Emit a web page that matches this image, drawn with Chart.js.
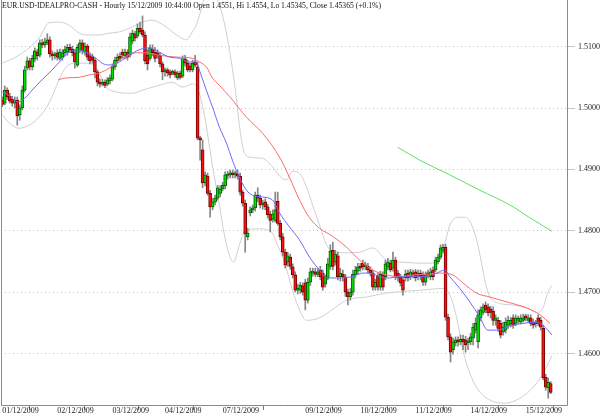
<!DOCTYPE html>
<html><head><meta charset="utf-8">
<script src="https://cdn.jsdelivr.net/npm/chart.js@4.4.1/dist/chart.umd.min.js"></script>
<style>html,body{margin:0;padding:0;background:#fff}#wrap{width:600px;height:416px}</style>
</head><body><div id="wrap"><canvas id="c" width="600" height="416"></canvas></div>
<script>
const titleText = "EUR.USD-IDEALPRO-CASH - Hourly 15/12/2009 10:44:00 Open 1.4551, Hi 1.4554, Lo 1.45345, Close 1.45365 (+0.1%)";
const dayLabels = ["01/12/2009","02/12/2009","03/12/2009","04/12/2009","07/12/2009","09/12/2009","10/12/2009","11/12/2009","14/12/2009","15/12/2009"];
const dayStartBar = [0,22,44,65,88,121,143,165,187,209];
const yTicks = [1.46,1.47,1.48,1.49,1.50,1.51];

const open = [1.5013,1.5008,1.5029,1.5019,1.5014,1.5008,1.5013,1.4989,1.5000,1.5029,
1.5065,1.5077,1.5067,1.5080,1.5091,1.5086,1.5106,1.5103,1.5106,1.5111,
1.5088,1.5085,1.5090,1.5081,1.5083,1.5090,1.5091,1.5099,1.5096,1.5090,
1.5070,1.5095,1.5106,1.5091,1.5101,1.5085,1.5083,1.5078,1.5059,1.5042,
1.5039,1.5042,1.5039,1.5044,1.5047,1.5067,1.5077,1.5083,1.5091,1.5085,
1.5091,1.5086,1.5109,1.5121,1.5117,1.5130,1.5127,1.5119,1.5086,1.5081,
1.5095,1.5091,1.5090,1.5086,1.5072,1.5059,1.5062,1.5059,1.5057,1.5059,
1.5049,1.5057,1.5052,1.5080,1.5073,1.5068,1.5062,1.5075,1.5067,1.4951,
1.4932,1.4878,1.4889,1.4861,1.4839,1.4847,1.4853,1.4861,1.4868,1.4873,
1.4889,1.4891,1.4894,1.4891,1.4892,1.4889,1.4863,1.4845,1.4790,1.4829,
1.4834,1.4837,1.4858,1.4853,1.4842,1.4847,1.4839,1.4827,1.4819,1.4817,
1.4848,1.4812,1.4790,1.4765,1.4749,1.4757,1.4741,1.4728,1.4703,1.4703,
1.4710,1.4715,1.4687,1.4716,1.4731,1.4733,1.4729,1.4736,1.4731,1.4713,
1.4723,1.4742,1.4768,1.4749,1.4759,1.4725,1.4729,1.4725,1.4700,1.4692,
1.4700,1.4728,1.4734,1.4741,1.4747,1.4741,1.4742,1.4736,1.4731,1.4708,
1.4726,1.4708,1.4728,1.4725,1.4741,1.4747,1.4739,1.4752,1.4731,1.4725,
1.4720,1.4723,1.4731,1.4725,1.4731,1.4733,1.4725,1.4731,1.4728,1.4716,
1.4729,1.4725,1.4736,1.4736,1.4749,1.4757,1.4768,1.4773,1.4659,1.4627,
1.4606,1.4617,1.4620,1.4619,1.4623,1.4622,1.4617,1.4619,1.4625,1.4638,
1.4619,1.4658,1.4667,1.4679,1.4676,1.4672,1.4669,1.4654,1.4654,1.4649,
1.4635,1.4638,1.4646,1.4648,1.4658,1.4649,1.4654,1.4651,1.4654,1.4659,
1.4654,1.4658,1.4651,1.4648,1.4658,1.4654,1.4641,1.4561,1.4544,1.4551];

const high = [1.5018,1.5036,1.5033,1.5024,1.5019,1.5018,1.5018,1.5005,1.5036,1.5068,
1.5083,1.5081,1.5086,1.5098,1.5096,1.5111,1.5112,1.5114,1.5121,1.5116,
1.5093,1.5091,1.5095,1.5096,1.5095,1.5101,1.5104,1.5104,1.5101,1.5095,
1.5103,1.5111,1.5111,1.5106,1.5104,1.5090,1.5088,1.5081,1.5062,1.5047,
1.5047,1.5046,1.5050,1.5054,1.5072,1.5083,1.5088,1.5090,1.5096,1.5096,
1.5095,1.5122,1.5127,1.5125,1.5137,1.5140,1.5150,1.5124,1.5095,1.5103,
1.5103,1.5099,1.5095,1.5090,1.5075,1.5065,1.5065,1.5062,1.5062,1.5062,
1.5060,1.5060,1.5085,1.5086,1.5078,1.5073,1.5078,1.5086,1.5075,1.4954,
1.4948,1.4896,1.4894,1.4866,1.4853,1.4858,1.4874,1.4873,1.4879,1.4896,
1.4897,1.4899,1.4899,1.4897,1.4899,1.4894,1.4866,1.4850,1.4804,1.4839,
1.4842,1.4863,1.4870,1.4858,1.4850,1.4852,1.4843,1.4832,1.4834,1.4863,
1.4863,1.4817,1.4796,1.4770,1.4765,1.4762,1.4746,1.4733,1.4713,1.4716,
1.4715,1.4721,1.4723,1.4739,1.4739,1.4739,1.4739,1.4742,1.4736,1.4728,
1.4755,1.4777,1.4781,1.4768,1.4765,1.4739,1.4736,1.4729,1.4705,1.4706,
1.4736,1.4742,1.4747,1.4747,1.4752,1.4749,1.4747,1.4741,1.4736,1.4721,
1.4731,1.4734,1.4733,1.4752,1.4755,1.4752,1.4765,1.4757,1.4736,1.4729,
1.4725,1.4736,1.4736,1.4737,1.4736,1.4737,1.4736,1.4736,1.4733,1.4733,
1.4736,1.4739,1.4741,1.4757,1.4762,1.4777,1.4778,1.4778,1.4664,1.4632,
1.4625,1.4627,1.4627,1.4630,1.4630,1.4628,1.4625,1.4633,1.4649,1.4658,
1.4671,1.4676,1.4681,1.4684,1.4681,1.4677,1.4676,1.4663,1.4659,1.4654,
1.4651,1.4658,1.4661,1.4659,1.4663,1.4663,1.4661,1.4663,1.4664,1.4664,
1.4663,1.4663,1.4656,1.4654,1.4663,1.4659,1.4646,1.4566,1.4560,1.4554];

const low = [1.5002,1.5005,1.5014,1.5008,1.5003,1.5000,1.4972,1.4980,1.4997,1.5026,
1.5062,1.5062,1.5062,1.5075,1.5078,1.5083,1.5098,1.5099,1.5103,1.5083,
1.5078,1.5080,1.5078,1.5078,1.5078,1.5085,1.5086,1.5090,1.5085,1.5065,
1.5067,1.5090,1.5088,1.5086,1.5078,1.5072,1.5073,1.5049,1.5036,1.5034,
1.5036,1.5033,1.5036,1.5039,1.5044,1.5063,1.5073,1.5077,1.5081,1.5080,
1.5078,1.5083,1.5104,1.5109,1.5114,1.5121,1.5116,1.5072,1.5062,1.5078,
1.5085,1.5075,1.5081,1.5067,1.5046,1.5052,1.5052,1.5049,1.5054,1.5050,
1.5046,1.5047,1.5049,1.5068,1.5059,1.5059,1.5059,1.5067,1.4948,1.4915,
1.4870,1.4873,1.4858,1.4822,1.4834,1.4842,1.4850,1.4855,1.4865,1.4868,
1.4884,1.4886,1.4886,1.4886,1.4884,1.4858,1.4840,1.4765,1.4785,1.4824,
1.4829,1.4832,1.4847,1.4837,1.4835,1.4834,1.4821,1.4798,1.4814,1.4814,
1.4809,1.4785,1.4759,1.4739,1.4742,1.4737,1.4723,1.4700,1.4697,1.4698,
1.4695,1.4671,1.4682,1.4711,1.4726,1.4725,1.4725,1.4720,1.4703,1.4708,
1.4720,1.4737,1.4736,1.4744,1.4720,1.4718,1.4718,1.4693,1.4679,1.4687,
1.4695,1.4723,1.4729,1.4734,1.4736,1.4736,1.4731,1.4726,1.4703,1.4703,
1.4703,1.4703,1.4703,1.4720,1.4736,1.4733,1.4734,1.4720,1.4718,1.4710,
1.4695,1.4718,1.4718,1.4720,1.4723,1.4718,1.4720,1.4720,1.4711,1.4711,
1.4723,1.4720,1.4720,1.4733,1.4746,1.4754,1.4764,1.4654,1.4622,1.4586,
1.4599,1.4612,1.4612,1.4614,1.4606,1.4602,1.4606,1.4614,1.4614,1.4633,
1.4609,1.4653,1.4663,1.4666,1.4661,1.4658,1.4646,1.4646,1.4636,1.4625,
1.4630,1.4633,1.4641,1.4643,1.4641,1.4645,1.4649,1.4648,1.4651,1.4653,
1.4651,1.4645,1.4641,1.4643,1.4645,1.4638,1.4557,1.4540,1.4527,1.45345];

const close = [1.5006,1.5029,1.5018,1.5011,1.5008,1.5013,1.4987,1.5000,1.5029,1.5062,
1.5077,1.5067,1.5081,1.5093,1.5085,1.5106,1.5103,1.5108,1.5111,1.5088,
1.5085,1.5086,1.5083,1.5091,1.5090,1.5095,1.5099,1.5095,1.5090,1.5075,
1.5099,1.5106,1.5093,1.5101,1.5083,1.5077,1.5078,1.5059,1.5042,1.5039,
1.5042,1.5037,1.5046,1.5049,1.5067,1.5078,1.5083,1.5081,1.5086,1.5091,
1.5083,1.5116,1.5122,1.5114,1.5130,1.5124,1.5119,1.5077,1.5072,1.5098,
1.5090,1.5081,1.5086,1.5072,1.5059,1.5060,1.5057,1.5054,1.5059,1.5054,
1.5057,1.5050,1.5080,1.5073,1.5062,1.5062,1.5073,1.5070,1.4951,1.4948,
1.4878,1.4891,1.4861,1.4839,1.4847,1.4853,1.4870,1.4868,1.4874,1.4891,
1.4892,1.4894,1.4891,1.4892,1.4889,1.4863,1.4845,1.4795,1.4796,1.4834,
1.4837,1.4858,1.4853,1.4842,1.4843,1.4839,1.4826,1.4817,1.4827,1.4834,
1.4812,1.4790,1.4765,1.4744,1.4759,1.4742,1.4728,1.4703,1.4706,1.4711,
1.4700,1.4687,1.4716,1.4733,1.4733,1.4729,1.4733,1.4725,1.4708,1.4725,
1.4746,1.4767,1.4742,1.4762,1.4725,1.4731,1.4725,1.4700,1.4692,1.4700,
1.4729,1.4736,1.4741,1.4739,1.4741,1.4742,1.4736,1.4731,1.4708,1.4716,
1.4708,1.4729,1.4708,1.4746,1.4749,1.4736,1.4752,1.4725,1.4723,1.4715,
1.4703,1.4729,1.4723,1.4733,1.4728,1.4723,1.4731,1.4725,1.4716,1.4728,
1.4728,1.4733,1.4725,1.4752,1.4757,1.4772,1.4773,1.4659,1.4627,1.4602,
1.4619,1.4622,1.4619,1.4623,1.4619,1.4614,1.4619,1.4627,1.4643,1.4649,
1.4663,1.4671,1.4676,1.4671,1.4666,1.4667,1.4654,1.4658,1.4641,1.4630,
1.4643,1.4651,1.4654,1.4654,1.4646,1.4658,1.4656,1.4658,1.4658,1.4658,
1.4658,1.4649,1.4646,1.4649,1.4649,1.4643,1.4560,1.4545,1.4553,1.45365];

// indicator lines, read at sample bars
const blueBar = [0,1.5,4.7,6.7,9.5,11.9,15.9,19.9,23.5,26.7,30.7,33.9,37.5,39.9,42.7,46.7,50.7,54.7,58.7,62.7,66.7,70.7,74.7,77.5,78.7,81.5,83.9,86.7,89.5,91.9,93.9,97.5,99.9,103.9,107.9,110.7,114.7,118.7,122.7,126.7,129.9,134.7,139.5,143.9,146.7,150.7,154.7,158.7,163.9,169.5,173.5,176.7,178.7,182.7,186.7,190.7,193.9,197.5,202.7,207.9,213.5,215.9,219.5];
const blueVal = [1.5026,1.5024,1.5013,1.5010,1.5018,1.5029,1.5046,1.5062,1.5078,1.5091,1.5095,1.5090,1.5081,1.5073,1.5070,1.5075,1.5086,1.5095,1.5098,1.5091,1.5083,1.5081,1.5075,1.5075,1.5062,1.5029,1.5002,1.4969,1.4943,1.4915,1.4894,1.4866,1.4858,1.4855,1.4850,1.4829,1.4806,1.4785,1.4757,1.4736,1.4723,1.4723,1.4725,1.4731,1.4731,1.4725,1.4723,1.4725,1.4725,1.4726,1.4731,1.4736,1.4725,1.4706,1.4684,1.4659,1.4638,1.4638,1.4645,1.4649,1.4651,1.4646,1.4630];
const redBar = [22.3,25.5,30.7,34.7,38.7,42.7,47.9,53.5,57.5,62.7,69.5,75.9,78.7,81.5,83.9,86.7,90.7,97.5,103.9,110.7,114.7,118.7,122.7,126.7,131.9,137.5,142.7,147.9,153.5,158.7,163.9,169.5,174.7,179.9,183.9,189.5,194.7,201.5,209.5,214.7,218.7];
const redVal = [1.5046,1.5049,1.5050,1.5054,1.5057,1.5065,1.5081,1.5090,1.5090,1.5086,1.5083,1.5081,1.5075,1.5067,1.5049,1.5037,1.5019,1.4985,1.4959,1.4920,1.4887,1.4850,1.4821,1.4804,1.4791,1.4773,1.4752,1.4736,1.4728,1.4725,1.4728,1.4729,1.4731,1.4728,1.4715,1.4698,1.4692,1.4684,1.4674,1.4663,1.4649];
const greenBar = [157.9,166.7,178.7,190.7,202.7,210.7,219.5];
const greenVal = [1.4936,1.4915,1.4891,1.4866,1.4842,1.4821,1.4799];
const upBar = [0,6.7,14.7,18.7,22.7,26.7,30.7,34.7,38.7,42.7,46.7,51.9,55.9,59.9,62.7,65.5,70.7,73.5,75.9,77.5,79.1,80.7,82.7,84.7,86.3,87.9,90.7,93.1,94.7,96.3,98.7,103.9,107.9,111.5,113.5,115.9,118.7,121.5,123.9,126.7,129.5,131.9,137.5,142.7,147.9,153.5,158.7,169.5,174.7,177.1,178.7,181.9,184.7,187.5,189.9,191.9,193.9,196.7,203.9,209.5,213.5,215.9,217.9,219.5];
const upVal = [1.5073,1.5086,1.5114,1.5139,1.5140,1.5135,1.5122,1.5119,1.5119,1.5122,1.5124,1.5132,1.5140,1.5143,1.5139,1.5132,1.5116,1.5111,1.5124,1.5135,1.5156,1.5179,1.5200,1.5192,1.5172,1.5152,1.5095,1.5029,1.4972,1.4932,1.4920,1.4918,1.4904,1.4886,1.4883,1.4897,1.4894,1.4871,1.4842,1.4809,1.4777,1.4767,1.4764,1.4765,1.4772,1.4752,1.4749,1.4747,1.4752,1.4785,1.4809,1.4822,1.4822,1.4809,1.4777,1.4736,1.4700,1.4684,1.4679,1.4674,1.4667,1.4674,1.4700,1.4711];
const loBar = [0,2.7,6.7,10.7,14.7,18.7,22.7,25.5,29.5,34.7,38.7,41.5,44.7,51.9,55.9,62.7,67.9,71.9,75.9,77.9,80.7,83.9,86.7,88.7,90.7,92.3,94.7,97.1,102.7,107.5,109.9,112.7,115.9,118.7,121.5,126.7,132.7,137.5,145.5,152.7,166.7,176.7,179.5,181.9,183.9,186.7,189.5,194.7,200.7,206.7,212.7,216.7,219.5];
const loVal = [1.4989,1.4976,1.4967,1.4972,1.4985,1.5008,1.5046,1.5067,1.5073,1.5073,1.5057,1.5034,1.5027,1.5024,1.5029,1.5037,1.5042,1.5034,1.5039,1.5033,1.4989,1.4907,1.4842,1.4793,1.4760,1.4749,1.4777,1.4801,1.4803,1.4798,1.4777,1.4749,1.4703,1.4671,1.4654,1.4658,1.4674,1.4687,1.4692,1.4698,1.4703,1.4706,1.4687,1.4649,1.4606,1.4568,1.4544,1.4524,1.4519,1.4527,1.4548,1.4573,1.4597];

const FONT = "'Liberation Serif','DejaVu Serif',serif";
const pts = (xs, ys) => xs.map((x, k) => ({x: x, y: ys[k]}));
const up = open.map((o, i) => close[i] >= o);

const lineDs = (label, xs, ys, color, order) => ({
  type: 'line', label, data: pts(xs, ys), borderColor: color, borderWidth: 1,
  pointRadius: 0, cubicInterpolationMode: 'monotone', fill: false, order
});

const framePlugin = {
  id: 'frame',
  afterDraw(chart) {
    const {ctx, chartArea: a} = chart;
    ctx.save();
    ctx.strokeStyle = '#8a8a8a'; ctx.lineWidth = 1;
    ctx.beginPath();
    ctx.moveTo(a.left + 0.5, a.top); ctx.lineTo(a.left + 0.5, a.bottom + 0.5);
    ctx.lineTo(a.right + 0.5, a.bottom + 0.5); ctx.lineTo(a.right + 0.5, a.top);
    ctx.stroke();
    ctx.fillStyle = '#111';
    ctx.font = "9px " + FONT;
    ctx.textBaseline = 'top';
    const w = ctx.measureText(titleText).width;
    ctx.translate(a.left + 1, 1);
    ctx.scale(379 / w, 1);
    ctx.fillText(titleText, 0, 0);
    ctx.restore();
  }
};

new Chart(document.getElementById('c'), {
  type: 'bar',
  data: {
    datasets: [
      lineDs('upper', upBar, upVal, '#cfcfcf', 5),
      lineDs('lower', loBar, loVal, '#cfcfcf', 5),
      {
        type: 'bar', label: 'wick', order: 4, grouped: false,
        data: open.map((o, i) => ({x: i, y: [low[i], high[i]]})),
        backgroundColor: '#858585', borderWidth: 0, barThickness: 1
      },
      {
        type: 'bar', label: 'body', order: 3, grouped: false,
        data: open.map((o, i) => ({x: i, y: [Math.min(o, close[i]), Math.max(o, close[i])]})),
        backgroundColor: up.map(u => u ? '#00e000' : '#ff1010'),
        borderColor: up.map(u => u ? '#006000' : '#7a0000'),
        borderWidth: 1, borderSkipped: false, barThickness: 3, minBarLength: 2
      },
      lineDs('green', greenBar, greenVal, '#5ee05e', 2),
      lineDs('red', redBar, redVal, '#ff6a6a', 1),
      lineDs('blue', blueBar, blueVal, '#6a6aff', 0)
    ]
  },
  options: {
    responsive: false, animation: false, devicePixelRatio: 1,
    layout: {padding: {left: 1, top: 0, right: 0, bottom: 0}},
    plugins: {legend: {display: false}, tooltip: {enabled: false}, title: {display: false}},
    scales: {
      x: {
        type: 'linear', min: -0.5, max: 225.5, offset: false,
        afterBuildTicks: s => { s.ticks = dayStartBar.map(v => ({value: v})); },
        afterFit: s => { s.height = 11; s.paddingLeft = 0; s.paddingRight = 0; },
        ticks: {
          autoSkip: false, maxRotation: 0, align: 'start', padding: -4,
          font: {family: FONT, size: 8}, color: '#222',
          callback: v => dayLabels[dayStartBar.indexOf(v)] || ''
        },
        grid: {drawOnChartArea: false, tickLength: 5, color: '#777'},
        border: {display: false}
      },
      y: {
        position: 'right', min: 1.4516, max: 1.5176,
        afterBuildTicks: s => { s.ticks = yTicks.map(v => ({value: v})); },
        afterFit: s => { s.width = 33; s.paddingTop = 0; s.paddingBottom = 0; },
        ticks: {font: {family: FONT, size: 8}, color: '#222', padding: 3,
          callback: v => Number(v).toFixed(4)},
        grid: {color: '#c4c4c4', tickLength: 8},
        border: {display: false, dash: [1, 3]}
      }
    }
  },
  plugins: [framePlugin]
});
</script></body></html>
